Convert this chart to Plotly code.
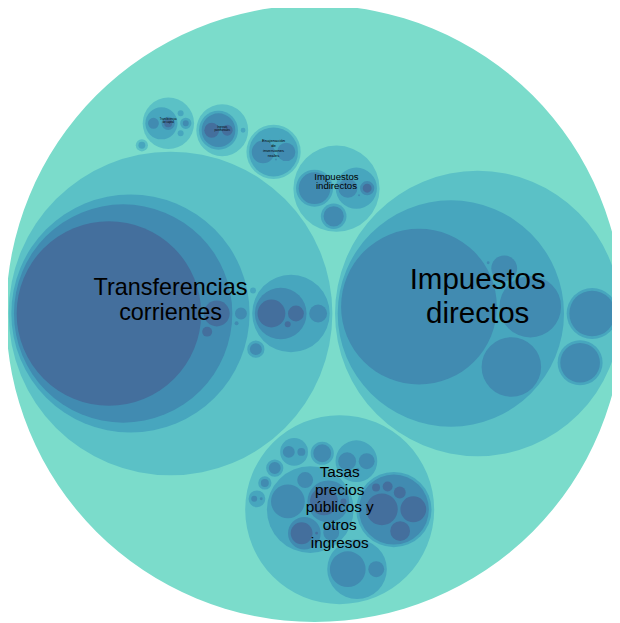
import math
import plotly.graph_objects as go

# Budget income tree. One character per level in each code, so the parent of
# a code is the code without its last character ("" -> root).
# values: leaf amounts (group nodes get 0, their size is the sum of leaves)
ids = [
    "1", "11", "111", "112", "113", "114", "115", "12", "121", "13", "131",
    "2", "21", "211", "22", "221", "222", "2221", "223", "23", "231",
    "3", "31", "311", "3111", "3112", "3113", "312", "3121", "3122", "313", "314", "315",
    "32", "321", "3211", "3212", "3213", "3214", "3215", "3216",
    "33", "331", "332", "34", "341", "342", "343", "35", "351", "352",
    "36", "361", "37", "371", "38", "381", "382", "39", "391",
    "4", "41", "411", "4111", "4112", "4113", "412", "413",
    "42", "421", "4211", "4212", "4213", "422", "43", "431", "44",
    "5", "51", "511", "5111", "5112", "52",
    "6", "61", "611", "612", "613",
    "7", "71", "711", "7111", "712", "72", "721", "73", "74",
    "8", "81",
]
values = [
    0, 0, 6162, 961, 900, 169, 2, 0, 530, 0, 400,
    0, 0, 255, 0, 92, 0, 20, 1, 0, 104,
    0, 0, 0, 196, 9, 2, 0, 121, 2, 64, 289, 64,
    0, 0, 256, 169, 100, 36, 25, 16,
    0, 324, 64, 0, 81, 64, 4, 0, 36, 16,
    0, 81, 0, 36, 0, 9, 2, 0, 16,
    0, 0, 0, 8649, 169, 25, 36, 4,
    0, 0, 196, 64, 9, 81, 0, 36, 9,
    0, 0, 0, 56, 30, 6,
    0, 0, 130, 85, 1,
    0, 0, 0, 16, 30, 0, 9, 9, 9,
    0, 12,
]

chapter_ids = ["1", "2", "3", "4", "5", "6", "7", "8"]
chapter_names = [
    "Impuestos directos",
    "Impuestos indirectos",
    "Tasas precios públicos y otros ingresos",
    "Transferencias corrientes",
    "Ingresos patrimoniales",
    "Enajenación de inversiones reales",
    "Transferencias de capital",
    "Activos financieros",
]

# --- style -------------------------------------------------------------------
W, H = 620, 623
BODY = 8  # default page margin of the html body
PACK_SIZE = 617
PACK_X0, PACK_Y0 = 6, 5
PADDING = 3
FONT = "Liberation Sans, Arial, sans-serif"
# chapter -> (font size, line height, first baseline offset from centre)
LABEL_STYLE = {
    "1": (29.5, 34, -22),
    "4": (23.4, 25, -16),
    "3": (15.3, 17.7, -31),
    "2": (9.6, 9.5, -8),
    "6": (4.2, 4.7, -9),
    "5": (2.6, 3.1, -2),
    "7": (2.6, 3.3, -3),
}


# --- colours: d3 scaleLinear([-1, 5]) hsl(152,80%,80%) -> hsl(228,30%,40%), HCL
def hsl_rgb(h, s, l):
    m2 = l + (l if l < 0.5 else 1 - l) * s
    m1 = 2 * l - m2

    def f(hh):
        if hh < 60:
            return (m1 + (m2 - m1) * hh / 60) * 255
        if hh < 180:
            return m2 * 255
        if hh < 240:
            return (m1 + (m2 - m1) * (240 - hh) / 60) * 255
        return m1 * 255
    return (f(h - 240 if h >= 240 else h + 120), f(h), f(h + 240 if h < 120 else h - 120))


XN, YN, ZN = 0.96422, 1, 0.82521
T0, T1 = 4 / 29, 6 / 29
T2, T3 = 3 * T1 * T1, T1 ** 3


def rgb_hcl(rgb):
    def lin(x):
        x /= 255
        return x / 12.92 if x <= 0.04045 else ((x + 0.055) / 1.055) ** 2.4

    def f(t):
        return t ** (1 / 3) if t > T3 else t / T2 + T0
    r, g, b = (lin(v) for v in rgb)
    y = f((0.2225045 * r + 0.7168786 * g + 0.0606169 * b) / YN)
    x = f((0.4360747 * r + 0.3850649 * g + 0.1430804 * b) / XN)
    z = f((0.0139322 * r + 0.0971045 * g + 0.7141733 * b) / ZN)
    L, A, B = 116 * y - 16, 500 * (x - y), 200 * (y - z)
    h = math.degrees(math.atan2(B, A))
    return (h + 360 if h < 0 else h, math.hypot(A, B), L)


def hcl_hex(h, c, l):
    a, b = math.cos(math.radians(h)) * c, math.sin(math.radians(h)) * c
    y = (l + 16) / 116
    x, z = y + a / 500, y - b / 200

    def g(t):
        return t ** 3 if t > T1 else T2 * (t - T0)
    x, y, z = XN * g(x), YN * g(y), ZN * g(z)

    def out(v):
        v = 255 * (12.92 * v if v <= 0.0031308 else 1.055 * v ** (1 / 2.4) - 0.055)
        return max(0, min(255, round(v)))
    rr = out(3.1338561 * x - 1.6168667 * y - 0.4906146 * z)
    gg = out(-0.9787684 * x + 1.9161415 * y + 0.0334540 * z)
    bb = out(0.0719453 * x - 0.2289914 * y + 1.4052427 * z)
    return "#%02x%02x%02x" % (rr, gg, bb)


C_START = rgb_hcl(hsl_rgb(152, 0.8, 0.8))
C_END = rgb_hcl(hsl_rgb(228, 0.3, 0.4))


def depth_color(depth):
    t = (depth + 1) / 6
    dh = C_END[0] - C_START[0]
    if dh > 180 or dh < -180:
        dh -= 360 * round(dh / 360)
    return hcl_hex(C_START[0] + dh * t,
                   C_START[1] + (C_END[1] - C_START[1]) * t,
                   C_START[2] + (C_END[2] - C_START[2]) * t)


# --- circle packing (port of d3-hierarchy 1.0 pack) ---------------------------
class Node:
    def __init__(self, code, value):
        self.code = code
        self.value = value
        self.children = []
        self.parent = None
        self.depth = 0
        self.x = self.y = self.r = 0.0


class Link:
    def __init__(self, c):
        self.c = c
        self.next = None
        self.prev = None


def place(b, a, c):
    dx, dy = b.x - a.x, b.y - a.y
    d2 = dx * dx + dy * dy
    if d2:
        a2 = (a.r + c.r) ** 2
        b2 = (b.r + c.r) ** 2
        if a2 > b2:
            x = (d2 + b2 - a2) / (2 * d2)
            y = math.sqrt(max(0, b2 / d2 - x * x))
            c.x = b.x - x * dx - y * dy
            c.y = b.y - x * dy + y * dx
        else:
            x = (d2 + a2 - b2) / (2 * d2)
            y = math.sqrt(max(0, a2 / d2 - x * x))
            c.x = a.x + x * dx - y * dy
            c.y = a.y + x * dy + y * dx
    else:
        c.x = a.x + c.r
        c.y = a.y


def intersects(a, b):
    dr = a.r + b.r - 1e-6
    dx, dy = b.x - a.x, b.y - a.y
    return dr > 0 and dr * dr > dx * dx + dy * dy


def encloses_weak(a, b):
    dr = a[2] - b[2] + max(a[2], b[2], 1) * 1e-9
    dx, dy = b[0] - a[0], b[1] - a[1]
    return dr > 0 and dr * dr > dx * dx + dy * dy


def encloses_not(a, b):
    dr = a[2] - b[2]
    dx, dy = b[0] - a[0], b[1] - a[1]
    return dr < 0 or dr * dr < dx * dx + dy * dy


def encloses_all(a, B):
    return all(encloses_weak(a, p) for p in B)


def basis2(a, b):
    x1, y1, r1 = a
    x2, y2, r2 = b
    x21, y21, r21 = x2 - x1, y2 - y1, r2 - r1
    l = math.hypot(x21, y21)
    return ((x1 + x2 + x21 / l * r21) / 2, (y1 + y2 + y21 / l * r21) / 2, (l + r1 + r2) / 2)


def basis3(a, b, c):
    x1, y1, r1 = a
    x2, y2, r2 = b
    x3, y3, r3 = c
    a2, a3, b2, b3 = x1 - x2, x1 - x3, y1 - y2, y1 - y3
    c2, c3 = r2 - r1, r3 - r1
    d1 = x1 * x1 + y1 * y1 - r1 * r1
    d2 = d1 - x2 * x2 - y2 * y2 + r2 * r2
    d3 = d1 - x3 * x3 - y3 * y3 + r3 * r3
    ab = a3 * b2 - a2 * b3
    xa = (b2 * d3 - b3 * d2) / (ab * 2) - x1
    xb = (b3 * c2 - b2 * c3) / ab
    ya = (a3 * d2 - a2 * d3) / (ab * 2) - y1
    yb = (a2 * c3 - a3 * c2) / ab
    A = xb * xb + yb * yb - 1
    B = 2 * (r1 + xa * xb + ya * yb)
    C = xa * xa + ya * ya - r1 * r1
    r = -((B + math.sqrt(B * B - 4 * A * C)) / (2 * A) if abs(A) > 1e-6 else C / B)
    return (x1 + xa + xb * r, y1 + ya + yb * r, r)


def basis(B):
    if len(B) == 1:
        return B[0]
    if len(B) == 2:
        return basis2(*B)
    return basis3(*B)


def extend_basis(B, p):
    if encloses_all(p, B):
        return [p]
    for q in B:
        if encloses_not(p, q) and encloses_all(basis2(q, p), B):
            return [q, p]
    for i in range(len(B) - 1):
        for j in range(i + 1, len(B)):
            if (encloses_not(basis2(B[i], B[j]), p)
                    and encloses_not(basis2(B[i], p), B[j])
                    and encloses_not(basis2(B[j], p), B[i])
                    and encloses_all(basis3(B[i], B[j], p), B)):
                return [B[i], B[j], p]
    raise ValueError("enclose failed")


def enclose(circles):
    pts = [(c.x, c.y, c.r) for c in circles]
    i, B, e = 0, [], None
    while i < len(pts):
        p = pts[i]
        if e is not None and encloses_weak(e, p):
            i += 1
        else:
            B = extend_basis(B, p)
            e = basis(B)
            i = 0
    return e


def pack_siblings(circles):
    n = len(circles)
    a = circles[0]
    a.x = a.y = 0.0
    if n == 1:
        return a.r
    b = circles[1]
    a.x, b.x, b.y = -b.r, a.r, 0.0
    if n == 2:
        return a.r + b.r
    c = circles[2]
    place(b, a, c)
    # weighted centroid
    oa = a.r ** 2 + b.r ** 2 + c.r ** 2
    ox = a.r ** 2 * a.x + b.r ** 2 * b.x + c.r ** 2 * c.x
    oy = a.r ** 2 * a.y + b.r ** 2 * b.y + c.r ** 2 * c.y
    a, b, c = Link(a), Link(b), Link(c)
    a.next = c.prev = b
    b.next = a.prev = c
    c.next = b.prev = a
    i = 3
    while i < n:
        place(a.c, b.c, circles[i])
        c = Link(circles[i])
        k, j = a.prev, b.next
        if k is j:
            if intersects(j.c, c.c):
                a, b = b, j
                continue
        else:
            sj, sk = j.c.r, k.c.r
            retry = False
            while True:
                if sj <= sk:
                    if intersects(j.c, c.c):
                        b = j
                        a.next, b.prev = b, a
                        retry = True
                        break
                    j = j.next
                    sj += j.c.r
                else:
                    if intersects(k.c, c.c):
                        a = k
                        a.next, b.prev = b, a
                        retry = True
                        break
                    k = k.prev
                    sk += k.c.r
                if j is k.next:
                    break
            if retry:
                continue
        c.prev, c.next = a, b
        a.next = c
        b.prev = c
        b = c
        ca = c.c.r ** 2
        oa += ca
        ox += ca * c.c.x
        oy += ca * c.c.y
        cx, cy = ox / oa, oy / oa
        aa = (a.c.x - cx) ** 2 + (a.c.y - cy) ** 2
        c = c.next
        while c is not b:
            d = (c.c.x - cx) ** 2 + (c.c.y - cy) ** 2
            if d < aa:
                a, aa = c, d
            c = c.next
        b = a.next
        i += 1
    chain, c = [b.c], b.next
    while c is not b:
        chain.append(c.c)
        c = c.next
    e = enclose(chain)
    for ci in circles:
        ci.x -= e[0]
        ci.y -= e[1]
    return e[2]


def post_order(node):
    for ch in node.children:
        yield from post_order(ch)
    yield node


def pre_order(node):
    yield node
    for ch in node.children:
        yield from pre_order(ch)


def pack_children(root, pad):
    for node in post_order(root):
        if node.children:
            for ch in node.children:
                ch.r += pad
            e = pack_siblings(node.children)
            for ch in node.children:
                ch.r -= pad
            node.r = e + pad


# build hierarchy
root = Node("", 0)
nodes = {"": root}
for code, v in zip(ids, values):
    nodes[code] = Node(code, v)
for code in ids:
    n = nodes[code]
    n.parent = nodes[code[:-1]]
    n.parent.children.append(n)
for node in post_order(root):
    if node.children:
        node.value = sum(ch.value for ch in node.children)
        node.children.sort(key=lambda ch: -ch.value)
    else:
        node.r = math.sqrt(node.value)
for node in pre_order(root):
    if node.parent is not None:
        node.depth = node.parent.depth + 1

pack_children(root, 0)
pack_children(root, PADDING * root.r / PACK_SIZE)
k = PACK_SIZE / (2 * root.r)
for node in pre_order(root):
    node.r *= k
    if node.parent is None:
        node.x = PACK_X0 + PACK_SIZE / 2
        node.y = PACK_Y0 + PACK_SIZE / 2
    else:
        node.x = node.parent.x + k * node.x
        node.y = node.parent.y + k * node.y

# --- figure -------------------------------------------------------------------
fig = go.Figure()
shapes = []
for node in pre_order(root):
    shapes.append(dict(
        type="circle", xref="x", yref="y", layer="below",
        x0=node.x - node.r, x1=node.x + node.r,
        y0=node.y - node.r, y1=node.y + node.r,
        fillcolor=depth_color(node.depth), line=dict(width=0),
    ))


def wrap(text, limit=10):
    lines = []
    for word in text.split():
        if lines and len(lines[-1]) + 1 + len(word) <= limit:
            lines[-1] += " " + word
        else:
            lines.append(word)
    return lines


tx, ty, tt, ts = [], [], [], []
for code, name in zip(chapter_ids, chapter_names):
    if code not in LABEL_STYLE:
        continue
    size, lh, off = LABEL_STYLE[code]
    node = nodes[code]
    for i, line in enumerate(wrap(name)):
        base = node.y + off + i * lh
        tx.append(node.x)
        ty.append(base - 0.35 * size)
        tt.append(line)
        ts.append(size)

fig.add_trace(go.Scatter(
    x=tx, y=ty, text=tt, mode="text", textposition="middle center",
    textfont=dict(family=FONT, size=ts, color="#000000"),
    hoverinfo="skip", showlegend=False,
))

# the page body keeps its default margin, so the plot area starts at BODY px
fig.update_layout(
    width=W, height=H,
    margin=dict(l=0, r=0, t=0, b=0),
    paper_bgcolor="white", plot_bgcolor="white",
    shapes=shapes,
    xaxis=dict(range=[BODY, W + BODY], visible=False, fixedrange=True),
    yaxis=dict(range=[H + BODY, BODY], visible=False, fixedrange=True),
)

fig.write_html("out.html")
